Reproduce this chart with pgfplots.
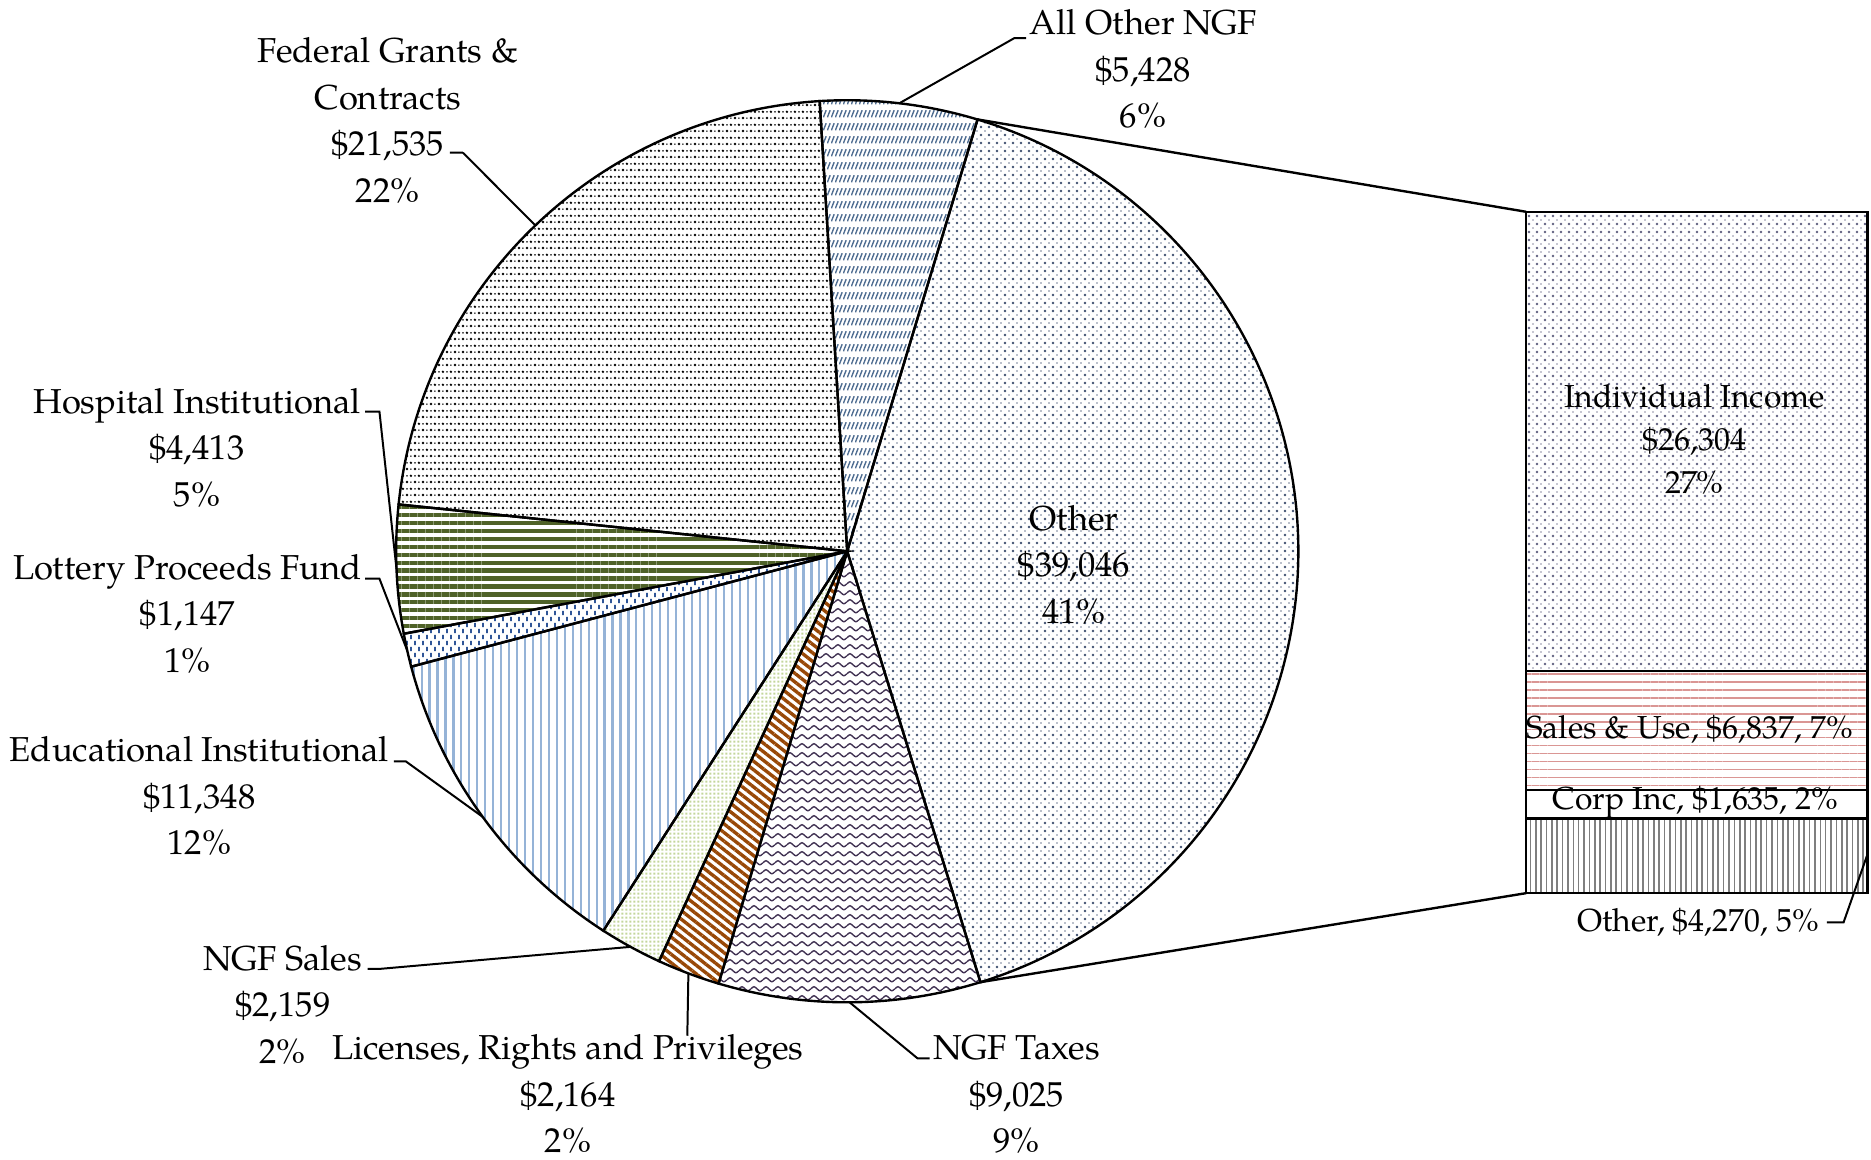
\documentclass[border=0pt]{standalone}
\usepackage{fontspec}
\setmainfont{TeX Gyre Pagella}
\usepackage{pgfplots}
\pgfplotsset{compat=1.18}
\usetikzlibrary{patterns,patterns.meta}

% colours of the fills
\definecolor{cAO}{HTML}{4F6D91}
\definecolor{cOth}{HTML}{3F4F6F}
\definecolor{cTax}{HTML}{403152}
\definecolor{cLic}{HTML}{984807}
\definecolor{cSal}{HTML}{C3D69B}
\definecolor{cEdu}{HTML}{95B3D7}
\definecolor{cLot}{HTML}{2F5597}
\definecolor{cHos}{HTML}{4F6228}
\definecolor{cInd}{HTML}{5F5F7F}
\definecolor{cSU}{HTML}{DA9694}
\definecolor{cBO}{HTML}{7F7F7F}

% hand made patterns
\pgfdeclarepatternformonly{feddots}{\pgfpointorigin}{\pgfpoint{2pt}{3.2pt}}{\pgfpoint{2pt}{3.2pt}}{%
  \pgfpathcircle{\pgfpoint{0.5pt}{0.5pt}}{0.34pt}
  \pgfpathcircle{\pgfpoint{1.5pt}{2.1pt}}{0.34pt}
  \pgfusepath{fill}
  \pgfsetlinewidth{0.25pt}
  \pgfpathmoveto{\pgfpoint{1.3pt}{0.5pt}}\pgfpathlineto{\pgfpoint{1.7pt}{0.5pt}}
  \pgfpathmoveto{\pgfpoint{0.3pt}{2.1pt}}\pgfpathlineto{\pgfpoint{0.7pt}{2.1pt}}
  \pgfusepath{stroke}}
\pgfdeclarepatternformonly{sparsedots}{\pgfpointorigin}{\pgfpoint{2pt}{2pt}}{\pgfpoint{2pt}{2pt}}{%
  \pgfpathcircle{\pgfpoint{0.5pt}{0.5pt}}{0.33pt}
  \pgfusepath{fill}
  \pgfsetlinewidth{0.22pt}
  \pgfpathmoveto{\pgfpoint{1.3pt}{1.5pt}}\pgfpathlineto{\pgfpoint{1.75pt}{1.5pt}}
  \pgfusepath{stroke}}
\pgfdeclarepatternformonly{slashrows}{\pgfpointorigin}{\pgfpoint{1pt}{3.2pt}}{\pgfpoint{1pt}{3.2pt}}{%
  \pgfsetlinewidth{0.35pt}
  \pgfpathmoveto{\pgfpoint{0.1pt}{0.7pt}}\pgfpathlineto{\pgfpoint{0.8pt}{2.5pt}}
  \pgfusepath{stroke}}
\pgfdeclarepatternformonly{waves}{\pgfpointorigin}{\pgfpoint{3pt}{2.2pt}}{\pgfpoint{3pt}{2.2pt}}{%
  \pgfsetlinewidth{0.35pt}
  \pgfpathmoveto{\pgfpoint{0pt}{1.1pt}}
  \pgfpathcurveto{\pgfpoint{0.75pt}{1.8pt}}{\pgfpoint{0.75pt}{1.8pt}}{\pgfpoint{1.5pt}{1.1pt}}
  \pgfpathcurveto{\pgfpoint{2.25pt}{0.4pt}}{\pgfpoint{2.25pt}{0.4pt}}{\pgfpoint{3pt}{1.1pt}}
  \pgfusepath{stroke}}
\pgfdeclarepatternformonly{vdashes}{\pgfpointorigin}{\pgfpoint{2pt}{3pt}}{\pgfpoint{2pt}{3pt}}{%
  \pgfsetlinewidth{0.45pt}
  \pgfpathmoveto{\pgfpoint{0.5pt}{0.2pt}}\pgfpathlineto{\pgfpoint{0.5pt}{1.3pt}}
  \pgfpathmoveto{\pgfpoint{1.5pt}{1.7pt}}\pgfpathlineto{\pgfpoint{1.5pt}{2.8pt}}
  \pgfusepath{stroke}}
\pgfdeclarepatternformonly{finedots}{\pgfpointorigin}{\pgfpoint{0.9pt}{0.9pt}}{\pgfpoint{0.9pt}{0.9pt}}{%
  \pgfpathrectangle{\pgfpoint{0.1pt}{0.1pt}}{\pgfpoint{0.55pt}{0.55pt}}
  \pgfusepath{fill}}

\tikzset{
  sAO/.style={pattern=slashrows, pattern color=cAO},
  sOth/.style={pattern=sparsedots, pattern color=cOth},
  sTax/.style={pattern=waves, pattern color=cTax},
  sLic/.style={pattern={Lines[angle=-38,distance=1.7pt,line width=0.85pt]}, pattern color=cLic},
  sSal/.style={pattern=finedots, pattern color=cSal},
  sEdu/.style={pattern={Lines[angle=90,distance=2pt,line width=0.55pt]}, pattern color=cEdu},
  sLot/.style={pattern=vdashes, pattern color=cLot},
  sHos/.style={pattern={Lines[angle=0,distance=2pt,line width=1.05pt]}, pattern color=cHos},
  sFed/.style={pattern=feddots, pattern color=black},
  sInd/.style={pattern=sparsedots, pattern color=cInd},
  sSU/.style={pattern={Lines[angle=0,distance=2pt,line width=0.4pt]}, pattern color=cSU},
  sBO/.style={pattern={Lines[angle=90,distance=1.35pt,line width=0.4pt]}, pattern color=cBO},
  lbl/.style={align=center, inner sep=0pt, font=\fontsize{8.7}{11.7}\selectfont},
  blbl/.style={align=center, inner sep=0pt, font=\fontsize{8.0}{10.8}\selectfont},
  lead/.style={draw=black, line width=0.5pt},
}

% pie: radius 378 units of 0.3pt, first slice starts 3.5 degrees left of the top
\newcommand\R{113.4pt}
\def\tStart{-3.5}
\def\pieTotal{96265}
\newcommand\slice[2]{%
  \edef\tEnd{\fpeval{round(\tStart+#1/\pieTotal*360,4)}}%
  \edef\pA{\fpeval{90-\tStart}}%
  \edef\pB{\fpeval{90-\tEnd}}%
  \edef\doslice{\noexpand\filldraw[#2, draw=black, line width=0.6pt]
    (axis cs:710,462) -- ++(\pA:\R) arc[start angle=\pA, end angle=\pB, radius=\R] -- cycle;}%
  \doslice
  \xdef\tStart{\tEnd}}

\begin{document}
\begin{tikzpicture}
% breakdown of "Other" as a stacked bar
\begin{axis}[at={(383.7pt,66.9pt)}, anchor=south west, hide axis, scale only axis,
  width=85.8pt, height=171.3pt, xmin=-0.5, xmax=0.5, ymin=0, ymax=39046,
  ybar stacked, bar width=85.8pt, clip=false]
\addplot[draw=black, line width=0.6pt, sBO] coordinates {(0,4270)};
\addplot[draw=black, line width=0.6pt, fill=white] coordinates {(0,1635)};
\addplot[draw=black, line width=0.6pt, sSU] coordinates {(0,6837)};
\addplot[draw=black, line width=0.6pt, sInd] coordinates {(0,26304)};
\end{axis}

% pie, drawn in an axis whose units match the picture
\begin{axis}[hide axis, x=0.3pt, y=0.3pt, xmin=0, xmax=1568, ymin=0, ymax=971.5,
  y dir=reverse, clip=false]
\path (axis cs:0,0) rectangle (axis cs:1568,971.5);
\slice{5428}{sAO}
\slice{39046}{sOth}
\slice{9025}{sTax}
\slice{2164}{sLic}
\slice{2159}{sSal}
\slice{11348}{sEdu}
\slice{1147}{sLot}
\slice{4413}{sHos}
\slice{21535}{sFed}

% connectors to the bar
\draw[line width=0.6pt] (axis cs:819.2,100.1) -- (axis cs:1279,177.5);
\draw[line width=0.6pt] (axis cs:821.7,823.1) -- (axis cs:1279,748.5);

% leader lines
\draw[lead] (axis cs:388,128) -- (axis cs:377,128) (axis cs:388,128) -- (axis cs:448.6,188.9);
\draw[lead] (axis cs:860,32) -- (axis cs:850,32) -- (axis cs:753.8,86.5);
\draw[lead] (axis cs:306,345) -- (axis cs:318,345) -- (axis cs:332.3,477);
\draw[lead] (axis cs:306,485) -- (axis cs:318,485) -- (axis cs:341.2,545);
\draw[lead] (axis cs:330,638) -- (axis cs:340,638) -- (axis cs:404.4,684.5);
\draw[lead] (axis cs:308,812) -- (axis cs:318,812) -- (axis cs:528.5,793.5);
\draw[lead] (axis cs:576,868) -- (axis cs:576.9,815.8);
\draw[lead] (axis cs:779,887) -- (axis cs:769,887) -- (axis cs:712,840);
\draw[lead] (axis cs:1531,773) -- (axis cs:1545,773) -- (axis cs:1565,716);

% labels
\node[lbl] at (axis cs:325,101) {Federal Grants \&\\Contracts\\\$21,535\\22\%};
\node[lbl] at (axis cs:958,58) {All Other NGF\\\$5,428\\6\%};
\node[lbl] at (axis cs:900,473) {Other\\\$39,046\\41\%};
\node[lbl] at (axis cs:165,375) {Hospital Institutional\\\$4,413\\5\%};
\node[lbl] at (axis cs:157,514) {Lottery Proceeds Fund\\\$1,147\\1\%};
\node[lbl] at (axis cs:167,667) {Educational Institutional\\\$11,348\\12\%};
\node[lbl] at (axis cs:237,842) {NGF Sales\\\$2,159\\2\%};
\node[lbl] at (axis cs:476,917) {Licenses, Rights and Privileges\\\$2,164\\2\%};
\node[lbl] at (axis cs:852,917) {NGF Taxes\\\$9,025\\9\%};
\node[blbl] at (axis cs:1420,368) {Individual Income\\\$26,304\\27\%};
\node[blbl] at (axis cs:1416,611) {Sales \& Use, \$6,837, 7\%};
\node[blbl] at (axis cs:1421,672) {Corp Inc, \$1,635, 2\%};
\node[blbl] at (axis cs:1423,773) {Other, \$4,270, 5\%};
\end{axis}
\end{tikzpicture}
\end{document}
